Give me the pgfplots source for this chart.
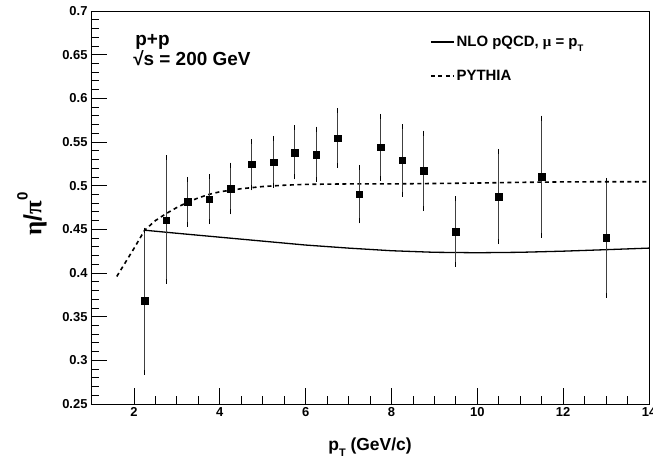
\documentclass[border=0pt]{standalone}
\usepackage{fontspec}
\setmainfont{Liberation Sans}
\newfontfamily\grk{Liberation Serif}
\usepackage{pgfplots}
\usepackage{pgfplotstable}
\pgfplotsset{compat=1.18}
\pgfplotstableread{
x y ep em
2.25 0.368 0.081 0.0815
2.75 0.4606 0.0714 0.0703
3.25 0.4816 0.0256 0.0256
3.75 0.4843 0.0259 0.0256
4.25 0.4965 0.0271 0.0264
4.75 0.5244 0.0259 0.0268
5.25 0.527 0.0272 0.0263
5.75 0.5377 0.0286 0.0275
6.25 0.5358 0.029 0.0286
6.75 0.5545 0.031 0.0309
7.25 0.4904 0.0306 0.0306
7.75 0.5442 0.0352 0.0358
8.25 0.5293 0.0382 0.0389
8.75 0.517 0.0433 0.0434
9.5 0.4476 0.0374 0.0374
10.5 0.4877 0.0516 0.0519
11.5 0.5102 0.0672 0.0668
13 0.4403 0.0657 0.066
}\datatable
\begin{document}
\begin{tikzpicture}
\useasboundingbox (-91bp,-53bp) rectangle (562bp,404bp);
\begin{axis}[
 scale only axis, width=558bp, height=393bp,
 xmin=1, xmax=14, ymin=0.25, ymax=0.7,
 xtick={2,4,6,8,10,12,14},
 ytick={0.25,0.3,0.35,0.4,0.45,0.5,0.55,0.6,0.65,0.7},
 minor x tick num=3, minor y tick num=4,
 tick align=inside, xtick pos=bottom, ytick pos=left,
 major tick length=16bp, minor tick length=8bp,
 tick style={black, line width=0.8bp},
 axis line style={line width=0.8bp},
 ticklabel style={font=\fontsize{13}{15}\selectfont\bfseries},
 /pgf/number format/assume math mode=true,
 yticklabel style={/pgf/number format/fixed, /pgf/number format/precision=2},
 xlabel={p\raisebox{-0.35em}{\fontsize{11}{11}\selectfont T} (GeV/c)},
 xlabel style={at={(axis description cs:0.5,0)}, anchor=base, yshift=-46bp, font=\fontsize{17.5}{20}\selectfont\bfseries},
 ylabel={{\grk η}/{\grk π}\raisebox{0.55em}{\fontsize{15}{15}\selectfont 0}},
 ylabel style={at={(axis description cs:-0.106,0.483)}, anchor=center, font=\fontsize{25}{28}\selectfont\bfseries},
 legend style={draw=none, fill=none, at={(rel axis cs:0.6075,0.9415)}, anchor=north west,
   font=\fontsize{15}{17}\selectfont\bfseries, row sep=18bp, inner sep=0pt, outer sep=0pt},
 legend cell align=left,
 legend image code/.code={\draw[#1] (0bp,0bp) -- (23bp,0bp);},
]
\addplot[black, line width=1.3bp] coordinates {
(2.25,0.449) (3,0.4455) (4,0.441) (5,0.4365) (6,0.432) (7,0.4285) (8,0.4255) (9,0.4237) (10,0.4232) (11,0.4237) (12,0.425) (13,0.4267) (14,0.4285)};
\addlegendentry{NLO pQCD, {\grk μ} = p\raisebox{-0.35em}{\fontsize{9.5}{9.5}\selectfont T}}
\addplot[black, line width=1.6bp, dash pattern=on 4bp off 3.5bp] coordinates {
(1.6,0.396) (1.8,0.412) (2.0,0.428) (2.25,0.449) (2.5,0.46) (2.75,0.468) (3,0.475) (3.25,0.481) (3.5,0.486) (3.75,0.490) (4,0.493) (4.5,0.4965) (5,0.499) (5.5,0.5005) (6,0.5015) (7,0.502) (8,0.502) (9,0.5025) (10,0.503) (11,0.5038) (12,0.5043) (13,0.5045) (14,0.5045)};
\addlegendentry{PYTHIA}
\addplot[forget plot, only marks, mark=square*, mark size=3.3bp, black,
  error bars/.cd, y dir=both, y explicit,
  error bar style={line width=1bp, black!75},
  error mark options={mark size=2.5bp, line width=1bp, black}]
  table[x=x, y=y, y error plus=ep, y error minus=em] {\datatable};
\node[anchor=base west, inner sep=0pt, font=\fontsize{19}{22}\selectfont\bfseries] at (axis cs:2.03,0.661) {p+p};
\node[anchor=base west, inner sep=0pt, font=\fontsize{19}{22}\selectfont\bfseries] at (axis cs:1.98,0.638) {√s = 200 GeV};
\end{axis}
\end{tikzpicture}
\end{document}
